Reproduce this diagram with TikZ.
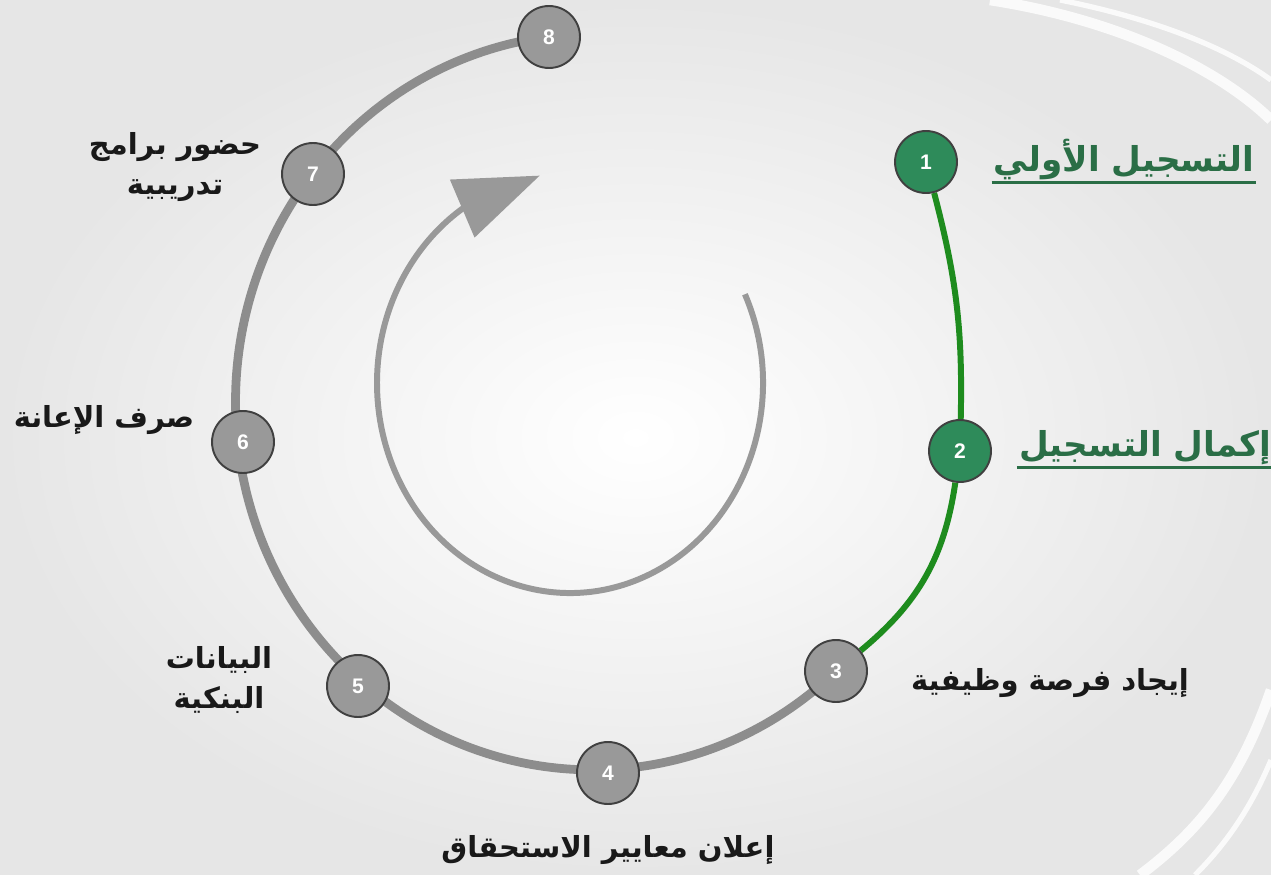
\documentclass[tikz,border=0pt]{standalone}
\usepackage{fontspec}
\setmainfont{Liberation Sans}
\newfontfamily\arabicfont[Script=Arabic]{DejaVu Sans}
\TeXXeTstate=1
\usepackage{xcolor}
\usetikzlibrary{arrows.meta, bending, positioning}

\pgfdeclarelayer{bg}
\pgfdeclarelayer{lines}
\pgfsetlayers{bg,lines,main}

\definecolor{bggray}{HTML}{E6E6E6}
\definecolor{stepgray}{HTML}{999999}
\definecolor{stepfill}{HTML}{2E8B5A}
\definecolor{stepline}{HTML}{1E8C1E}
\definecolor{steptext}{HTML}{2A6E46}

\tikzset{
	stepnode/.style={circle, draw=black!75, line width=1.1pt, fill=stepgray, minimum size=1.24cm, inner sep=0pt, text=white, font=\bfseries\fontsize{12}{12}\selectfont},
	donenode/.style={stepnode, fill=stepfill},
	grayline/.style={draw=stepgray!92!black, line width=5pt},
	greenline/.style={draw=stepline, line width=3.4pt},
	steplabel/.style={font=\arabicfont\bfseries\fontsize{16.5}{23}\selectfont, text=black!90, align=center},
	donelabel/.style={steplabel, font=\arabicfont\bfseries\fontsize{19.5}{25}\selectfont, text=steptext, inner sep=1pt, append after command={(\tikzlastnode.south west) edge[draw=steptext, line width=1.4pt] (\tikzlastnode.south east)}},
	cyclearrow/.style={draw=stepgray, line width=3.4pt, -{Triangle[length=48pt, width=35pt]}},
	swoosh/.style={draw=white, line width=6pt, opacity=0.8}
}

\begin{document}
\begin{tikzpicture}[x=0.02cm, y=0.02cm]
	\useasboundingbox (0,0) rectangle (1271,-875);

	\begin{pgfonlayer}{bg}
		\shade[inner color=white, outer color=bggray] (0,0) rectangle (1271,-875);
		\draw[swoosh] (990,0) .. controls (1120,-20) and (1220,-70) .. (1271,-120);
		\draw[swoosh, line width=3pt] (1060,0) .. controls (1160,-20) and (1230,-50) .. (1271,-80);
		\draw[swoosh] (1271,-690) .. controls (1240,-780) and (1200,-830) .. (1140,-875);
		\draw[swoosh, line width=3pt] (1271,-760) .. controls (1250,-810) and (1225,-845) .. (1195,-875);
	\end{pgfonlayer}

	\coordinate (ic) at (570,-383);
	\draw[cyclearrow] (ic) ++(25:193 and 210) arc[start angle=25, end angle=-261, x radius=193, y radius=210];

	\node[donenode] (n1) at (926,-162) {1};
	\node[donenode] (n2) at (960,-451) {2};
	\foreach \n/\x/\y in {3/836/-671, 4/608/-773, 5/358/-686, 6/243/-442, 7/313/-174, 8/549/-37}
	{
		\node[stepnode] (n\n) at (\x,\y) {\n};
	}

	\begin{pgfonlayer}{lines}
		\draw[grayline] (n3.center) arc[start angle=-47, end angle=-263, x radius=357, y radius=368];
		\draw[greenline] (n1) to[bend left=8] (n2);
		\draw[greenline] (n2) to[bend left=21] (n3);
	\end{pgfonlayer}

	\node[donelabel] (l1) at (1124,-160) {\beginR التسجيل الأولي\endR};
	\node[donelabel] (l2) at (1145,-448) {\beginR إكمال التسجيل\endR};
	\node[steplabel] (l3) at (1050,-683) {\beginR إيجاد فرصة وظيفية\endR};
	\node[steplabel] (l4) at (608,-850) {\beginR إعلان معايير الاستحقاق\endR};
	\node[steplabel] (l5) at (219,-680) {\beginR البيانات\endR\\\beginR البنكية\endR};
	\node[steplabel] (l6) at (104,-420) {\beginR صرف الإعانة\endR};
	\node[steplabel] (l7) at (175,-167) {\beginR حضور برامج\endR\\\beginR تدريبية\endR};
\end{tikzpicture}
\end{document}
